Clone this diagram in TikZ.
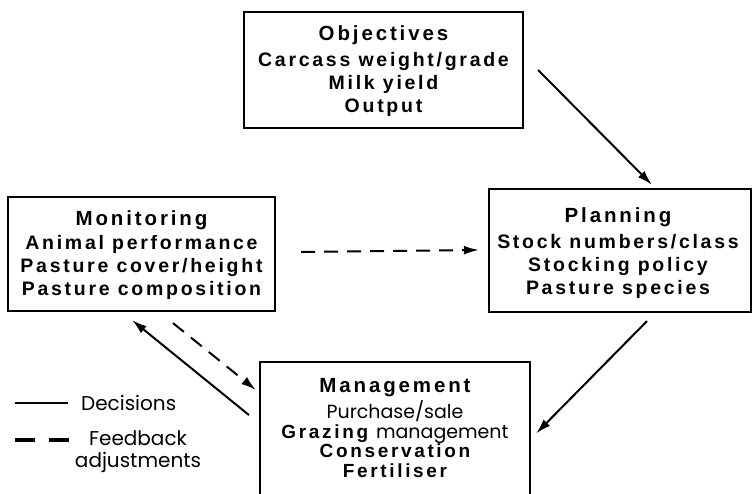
\documentclass[tikz,border=0pt]{standalone}
\usepackage{fontspec}
\setmainfont{Liberation Sans}
\newfontfamily\hb[LetterSpace=14]{Liberation Sans}
\newfontfamily\cg{Poppins}
\usetikzlibrary{arrows.meta,calc}
\begin{document}
\begin{tikzpicture}[x=1pt,y=-1pt,
  box/.style={draw,line width=2.2pt,inner sep=0pt},
  txt/.style={align=center,inner sep=0pt,font=\hb\bfseries\fontsize{19.5}{23}\selectfont},
  arr/.style={line width=2pt,-{Latex[length=15pt,width=9pt]}},
  darr/.style={arr,dash pattern=on 14pt off 9pt},
  leg/.style={inner sep=0pt,font=\cg\fontsize{20}{22}\selectfont}]
\useasboundingbox (0,0) rectangle (752,493);
\clip (0,0) rectangle (752,493);
% boxes
\node[box,minimum width=279pt,minimum height=116pt] (obj) at (383.5,70) {};
\node[box,minimum width=267pt,minimum height=114pt] (mon) at (141.5,254) {};
\node[box,minimum width=262pt,minimum height=123pt] (plan) at (620,250.5) {};
\node[box,minimum width=270pt,minimum height=143pt] (man) at (395,433.5) {};
% texts
\node[txt] (objt) at (383.5,71) {{\fontsize{20.5}{23}\selectfont Objectives}\\[3pt]Carcass weight/grade\\Milk yield\\Output};
\node[txt] (mont) at (141.5,255) {{\fontsize{20.5}{23}\selectfont Monitoring}\\[1pt]Animal performance\\Pasture cover/height\\Pasture composition};
\node[txt] (plant) at (618,253) {{\fontsize{20.5}{23}\selectfont Planning}\\[3pt]Stock numbers/class\\Stocking policy\\Pasture species};
\node[txt,font=\hb\bfseries\fontsize{19}{19.5}\selectfont] (mant) at (395,428) {{\fontsize{20.5}{23}\selectfont Management}\\[3pt]{\cg\mdseries Purchase/sale}\\Grazing {\cg\mdseries management}\\Conservation\\Fertiliser};
% connectors
\draw[arr] ($(obj.east)+(14,0)$) -- ($(plan.north)+(32,-3)$);
\draw[arr] ($(plan.south)+(27,8)$) -- ($(man.east)+(5,0)$);
\draw[darr] ($(mon.east)+(25,-2)$) -- ($(plan.west)+(-9,-0.5)$);
\draw[arr] ($(man.west)+(-10,-18.5)$) -- ($(mon.south)+(-9.5,8)$);
\draw[darr] ($(mon.south)+(31.5,11)$) -- ($(man.west)+(-3,-43.5)$);
% legend
\coordinate (l1a) at (15,403);
\coordinate (l1b) at (68,403);
\coordinate (l2a) at (15,440);
\coordinate (l2b) at (70,440);
\draw[line width=2.4pt] (l1a) -- (l1b);
\draw[line width=3.2pt,dash pattern=on 20pt off 14pt] (l2a) -- (l2b);
\node[leg,anchor=west] (dec) at (81,403) {Decisions};
\node[leg,align=center] (fb) at (138,452) {Feedback\\adjustments};
\end{tikzpicture}
\end{document}
